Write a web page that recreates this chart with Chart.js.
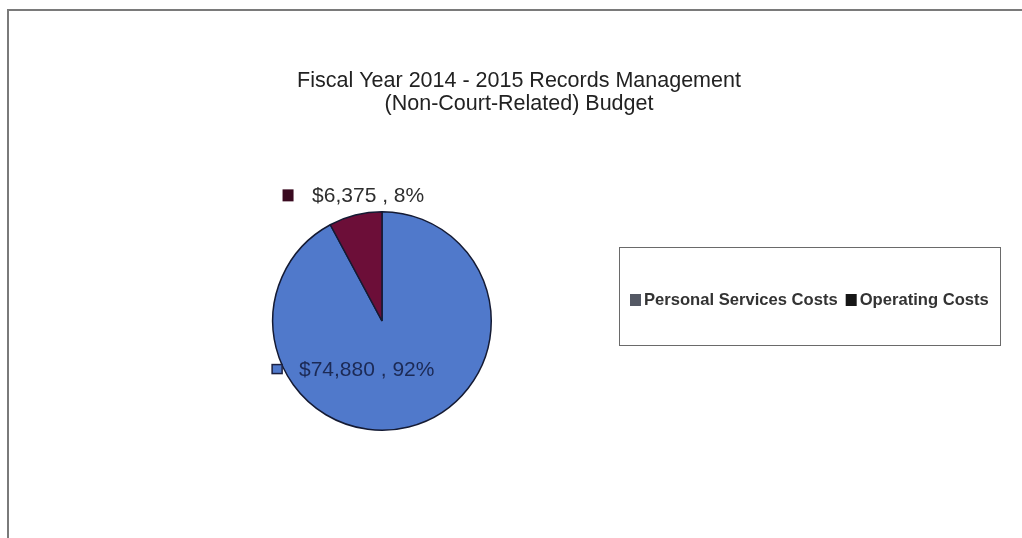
<!DOCTYPE html>
<html>
<head>
<meta charset="utf-8">
<script src="https://cdn.jsdelivr.net/npm/chart.js@4.4.1/dist/chart.umd.min.js"></script>
<style>
  html, body { margin: 0; padding: 0; background: #ffffff; }
  #wrap { position: relative; width: 1022px; height: 538px; overflow: hidden; }
  canvas { display: block; }
</style>
</head>
<body>
<div id="wrap">
  <canvas id="budgetChart" width="1022" height="538"></canvas>
</div>
<script>
// Datos del presupuesto
const titleLines = ['Fiscal Year 2014 - 2015 Records Management', '(Non-Court-Related) Budget'];
const categories = ['Personal Services Costs', 'Operating Costs'];
const amounts = [74880, 6375];
const sliceColors = ['#5079cb', '#6c0e38'];
const legendMarkers = ['#545864', '#161616'];
const labelColors = ['#1c2a55', '#2e2e2e'];

const FONT = '"Liberation Sans", Arial, sans-serif';

function formatMoney(v) {
    return '$' + v.toLocaleString('en-US');
}

// Marco, título, etiquetas de datos y leyenda
const decorPlugin = {
    id: 'decor',
    beforeDraw(chart) {
        const ctx = chart.ctx;
        ctx.save();
        ctx.fillStyle = '#ffffff';
        ctx.fillRect(0, 0, chart.width, chart.height);
        // marco exterior (solo arriba e izquierda visibles)
        ctx.strokeStyle = '#7a7a7a';
        ctx.lineWidth = 2;
        ctx.beginPath();
        ctx.moveTo(8, chart.height);
        ctx.lineTo(8, 10);
        ctx.lineTo(chart.width, 10);
        ctx.stroke();
        ctx.restore();
    },
    afterDraw(chart) {
        const ctx = chart.ctx;
        ctx.save();

        // título
        ctx.fillStyle = '#222222';
        ctx.font = '21.5px ' + FONT;
        ctx.textAlign = 'center';
        ctx.textBaseline = 'middle';
        titleLines.forEach((line, i) => ctx.fillText(line, 519, 81 + i * 23));

        // etiquetas de datos
        const meta = chart.getDatasetMeta(0);
        const total = amounts.reduce((a, b) => a + b, 0);
        const arc = meta.data[0];
        const cx = arc.x, cy = arc.y, r = arc.outerRadius;
        // desplazamientos relativos al radio del pastel
        const spots = [
            { mx: -0.96, my: 0.44, tx: -0.76 },
            { mx: -0.86, my: -1.15, tx: -0.64 }
        ];
        ctx.font = '21px ' + FONT;
        ctx.textAlign = 'left';
        amounts.forEach((v, i) => {
            const s = spots[i];
            const mx = cx + s.mx * r, my = cy + s.my * r;
            if (i === 0) {
                ctx.fillStyle = sliceColors[i];
                ctx.fillRect(mx - 5, my - 4.5, 10, 9);
                ctx.strokeStyle = '#1c2040';
                ctx.lineWidth = 1.5;
                ctx.strokeRect(mx - 5, my - 4.5, 10, 9);
            } else {
                ctx.fillStyle = '#3a0a20';
                ctx.fillRect(mx - 5.5, my - 6, 11, 12);
            }
            const pct = Math.round(v / total * 100);
            ctx.fillStyle = labelColors[i];
            ctx.fillText(formatMoney(v) + ' , ' + pct + '%', cx + s.tx * r, my + 1);
        });

        // leyenda con recuadro
        ctx.strokeStyle = '#6a6a6a';
        ctx.lineWidth = 1;
        ctx.strokeRect(619.5, 247.5, 381, 98);
        ctx.font = 'bold 16.6px ' + FONT;
        ctx.textBaseline = 'middle';
        let x = 630;
        categories.forEach((name, i) => {
            ctx.fillStyle = legendMarkers[i];
            ctx.fillRect(x, 294, 11, 12);
            ctx.fillStyle = '#333333';
            ctx.fillText(name, x + 14, 300);
            x += 14 + ctx.measureText(name).width + 8;
        });

        ctx.restore();
    }
};

const chart = new Chart(document.getElementById('budgetChart'), {
    type: 'pie',
    data: {
        labels: categories,
        datasets: [{
            data: amounts,
            backgroundColor: sliceColors,
            borderColor: '#141a33',
            borderWidth: 1.5
        }]
    },
    options: {
        responsive: false,
        animation: false,
        layout: {
            padding: { left: 272, right: 530, top: 211, bottom: 107 }
        },
        plugins: {
            legend: { display: false },
            title: { display: false },
            tooltip: { enabled: false }
        }
    },
    plugins: [decorPlugin]
});
</script>
</body>
</html>
